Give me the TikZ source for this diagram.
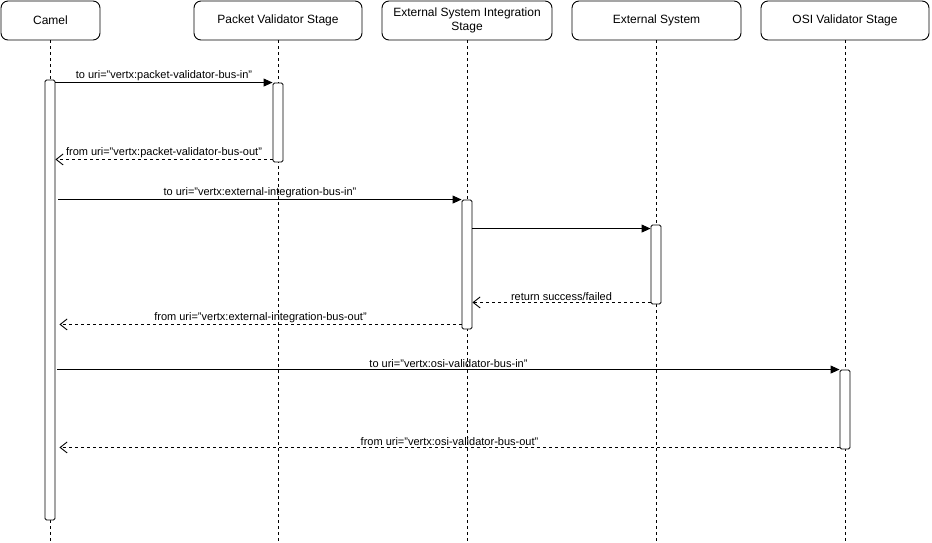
\documentclass[tikz,border=0pt]{standalone}
\usepackage{fontspec}
\setmainfont{Liberation Sans}
\usetikzlibrary{arrows.meta,positioning,calc}
\tikzset{
 head/.style={draw,rounded corners=7pt,minimum height=39pt,align=center,
   font=\fontsize{12}{13.5}\selectfont,inner sep=0pt},
 life/.style={dash pattern=on 3pt off 3pt},
 act/.style={draw,fill=white,rounded corners=1.5pt,minimum width=10pt,inner sep=0pt},
 msg/.style={-{Triangle[length=9pt,width=8pt]}},
 ret/.style={dash pattern=on 3pt off 3pt,-{Straight Barb[length=7pt,width=11pt]}},
 lbl/.style={above,inner sep=1.5pt,font=\fontsize{11}{12}\selectfont}
}
\begin{document}
\begin{tikzpicture}[x=1pt,y=-1pt,line width=0.9pt]
\useasboundingbox (0,0) rectangle (932,542);

% lifeline heads
\path (50.5,20.5) node[head,minimum width=99pt,name=camel] {Camel};
\path (278,20.5) node[head,minimum width=168pt,name=pvs] {Packet Validator Stage};
\path (467,20.5) node[head,minimum width=170pt,name=esis] {External System Integration\\Stage};
\path (656.5,20.5) node[head,minimum width=169pt,name=es] {External System};
\path (845,20.5) node[head,minimum width=168pt,name=osi] {OSI Validator Stage};

% lifelines
\foreach \n in {camel,pvs,esis,es,osi}
  \path[life] (\n.south) edge (\n.south |- 0,542);

% activations
\path (50,300) node[act,minimum height=440pt,name=camelact] {};
\path (278,122.5) node[act,minimum height=79pt,name=pvsact] {};
\path (467,264.5) node[act,minimum height=129pt,name=esisact] {};
\path (656,264.5) node[act,minimum height=79pt,name=esact] {};
\path (845,409.5) node[act,minimum height=79pt,name=osiact] {};

% messages
\path[msg] (pvsact.north west -| camelact.east) edge
  node[lbl] {to uri="vertx:packet-validator-bus-in"} (pvsact.north west);
\path[ret] ([yshift=3pt]pvsact.south west) edge
  node[lbl] {from uri="vertx:packet-validator-bus-out"} ([yshift=3pt]pvsact.south west -| camelact.east);

\path[msg] ([xshift=3pt]esisact.north west -| camelact.east) edge
  node[lbl] {to uri="vertx:external-integration-bus-in"} (esisact.north west);
\path[msg] ([yshift=-4pt]esact.north west -| esisact.east) edge ([yshift=-4pt]esact.north west);
\path[ret] ([yshift=2pt]esact.south west) edge
  node[lbl] {return success/failed} ([yshift=2pt]esact.south west -| esisact.east);
\path[ret] ([yshift=5pt]esisact.south west) edge
  node[lbl] {from uri="vertx:external-integration-bus-out"} ([yshift=5pt,xshift=4pt]esisact.south west -| camelact.east);

\path[msg] ([xshift=2pt]osiact.north west -| camelact.east) edge
  node[lbl] {to uri="vertx:osi-validator-bus-in"} (osiact.north west);
\path[ret] ([yshift=2pt]osiact.south west) edge
  node[lbl] {from uri="vertx:osi-validator-bus-out"} ([yshift=2pt,xshift=4pt]osiact.south west -| camelact.east);

\end{tikzpicture}
\end{document}
